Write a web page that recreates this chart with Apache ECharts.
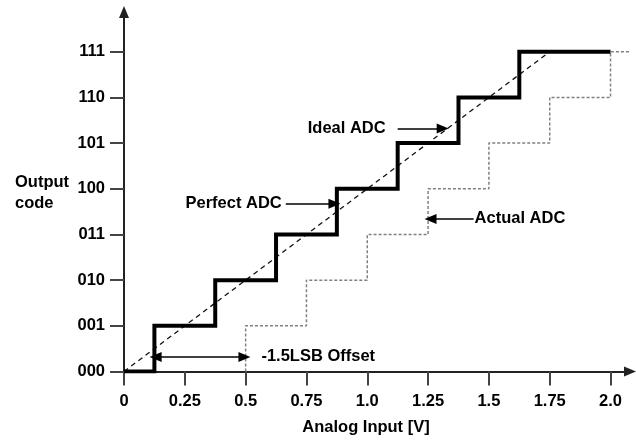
<!DOCTYPE html>
<html>
<head>
<meta charset="utf-8">
<style>
  html, body { margin: 0; padding: 0; background: #fff; }
  #chart { width: 636px; height: 441px; }
</style>
<script src="https://cdn.jsdelivr.net/npm/echarts@6/dist/echarts.min.js"></script>
</head>
<body>
<div id="chart"></div>
<script>
// Input voltage ticks and their labels
const xTickValues = [0, 0.25, 0.5, 0.75, 1.0, 1.25, 1.5, 1.75, 2.0];
const xTickLabels = ['0', '0.25', '0.5', '0.75', '1.0', '1.25', '1.5', '1.75', '2.0'];
// Output codes (3-bit)
const codeValues = [0, 1, 2, 3, 4, 5, 6, 7];
const codeLabels = ['000', '001', '010', '011', '100', '101', '110', '111'];

// Perfect ADC: transition voltages and resulting code (step drawn at the end of each span)
const perfectADC = [[0, 0], [0.125, 1], [0.375, 2], [0.625, 3], [0.875, 4], [1.125, 5], [1.375, 6], [1.625, 7], [2.0, 7]];
// Actual ADC: same staircase shifted by the offset error
const actualADC = [[0.5, 0], [0.5, 1], [0.75, 2], [1.0, 3], [1.25, 4], [1.5, 5], [1.75, 6], [2.0, 7], [2.08, 7]];
// Ideal ADC: straight transfer line
const idealADC = [[0, 0], [1.75, 7]];

// Annotation arrows: [from, to] in data units
const idealArrow = [[1.125, 5.32], [1.31, 5.32]];
const perfectArrow = [[0.665, 3.67], [0.865, 3.67]];
const actualArrow = [[1.437, 3.34], [1.26, 3.34]];
const offsetArrow = [[0.13, 0.32], [0.495, 0.32]];

const FONT = '"Liberation Sans", Arial, Helvetica, sans-serif';
const textStyle = { fontFamily: FONT, fontWeight: 'bold', fontSize: 16.5, color: '#000' };

const chart = echarts.init(document.getElementById('chart'), null, { renderer: 'canvas' });

function arrowLine(pts, text, pos, dist) {
  return [
    { coord: pts[0], label: { show: true, formatter: text, position: pos, distance: dist, ...textStyle } },
    { coord: pts[1] }
  ];
}

chart.setOption({
  animation: false,
  backgroundColor: '#fff',
  grid: { left: 124, right: 6, top: 12, bottom: 69.5, containLabel: false },
  xAxis: {
    type: 'value', min: 0, max: 2.08,
    axisLine: { lineStyle: { color: '#222', width: 2 }, symbol: ['none', 'triangle'], symbolSize: [10, 12] },
    axisTick: { customValues: xTickValues, length: 14, lineStyle: { color: '#444', width: 2 } },
    axisLabel: {
      customValues: xTickValues, margin: 21, ...textStyle,
      formatter: v => { const i = xTickValues.findIndex(t => Math.abs(t - v) < 1e-6); return i >= 0 ? xTickLabels[i] : ''; }
    },
    splitLine: { show: false }
  },
  yAxis: {
    type: 'value', min: 0, max: 7.87,
    axisLine: { lineStyle: { color: '#222', width: 2 }, symbol: ['none', 'triangle'], symbolSize: [10, 12] },
    axisTick: { customValues: codeValues, length: 14, lineStyle: { color: '#444', width: 2 } },
    axisLabel: {
      customValues: codeValues, margin: 19, ...textStyle,
      formatter: v => { const i = codeValues.indexOf(Math.round(v)); return i >= 0 ? codeLabels[i] : ''; }
    },
    splitLine: { show: false }
  },
  series: [
    {
      name: 'Ideal ADC', type: 'line', data: idealADC, symbol: 'none', z: 3,
      lineStyle: { color: '#111', width: 1.3, type: [5, 4] }
    },
    {
      name: 'Actual ADC', type: 'line', step: 'end', data: actualADC, symbol: 'none', z: 2,
      lineStyle: { color: '#808080', width: 1.5, type: [3, 2] }
    },
    {
      name: 'Perfect ADC', type: 'line', step: 'end', data: perfectADC, symbol: 'none', z: 4,
      lineStyle: { color: '#000', width: 4, join: 'miter', cap: 'butt' }
    },
    {
      name: 'labels', type: 'line', data: [], z: 5,
      markLine: {
        silent: true, animation: false,
        symbol: ['none', 'triangle'], symbolSize: [10, 12],
        lineStyle: { color: '#000', width: 1.6, type: 'solid' },
        data: [
          arrowLine(idealArrow, 'Ideal ADC', 'start', 12),
          arrowLine(perfectArrow, 'Perfect ADC', 'start', 4),
          arrowLine(actualArrow, 'Actual ADC', 'start', 1)
        ]
      }
    },
    {
      name: 'offset', type: 'line', data: [], z: 5,
      markLine: {
        silent: true, animation: false,
        symbol: ['triangle', 'triangle'], symbolSize: [10, 12],
        lineStyle: { color: '#000', width: 1.6, type: 'solid' },
        data: [
          [
            { coord: offsetArrow[0] },
            { coord: offsetArrow[1], label: { show: true, formatter: '-1.5LSB Offset', position: 'end', distance: 17, ...textStyle } }
          ]
        ]
      }
    }
  ],
  graphic: [
    { type: 'text', left: 15, top: 172, style: { text: 'Output\ncode', font: 'bold 16.5px ' + FONT, fill: '#000', lineHeight: 21 } },
    { type: 'text', x: 366, y: 427, style: { text: 'Analog Input [V]', font: 'bold 16.5px ' + FONT, fill: '#000', align: 'center', verticalAlign: 'middle' } }
  ]
});
</script>
</body>
</html>
